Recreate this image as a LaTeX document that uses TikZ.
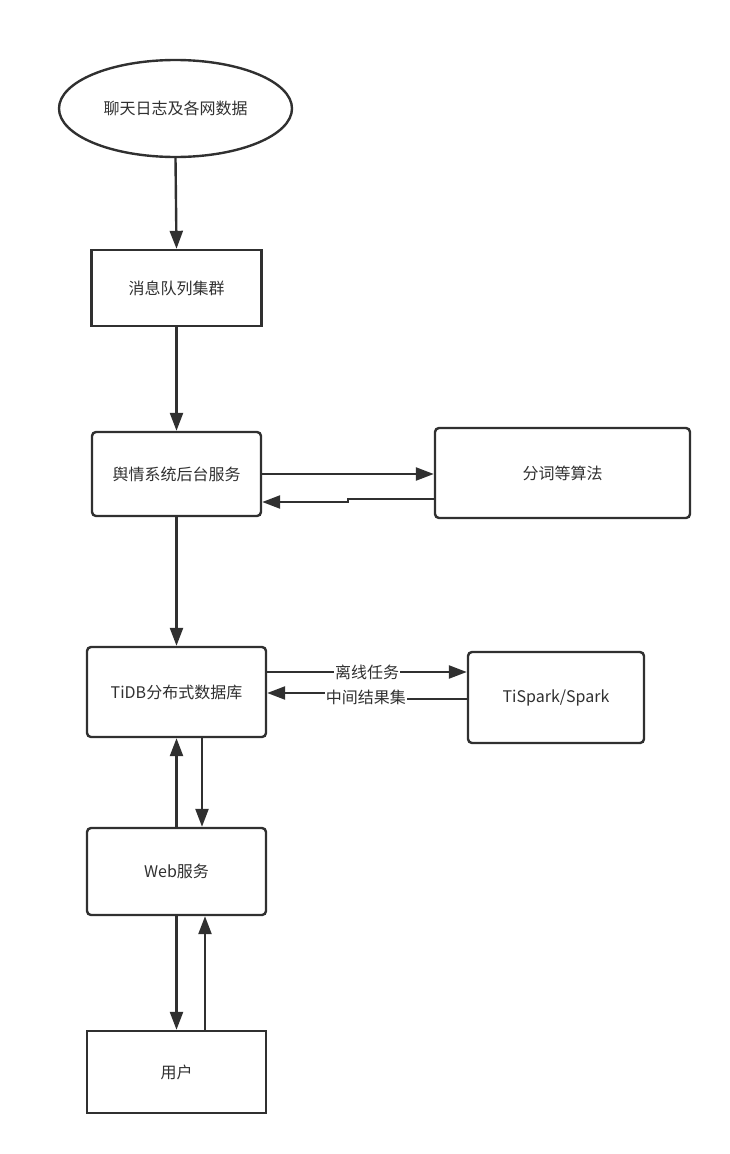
\documentclass[tikz,border=0pt]{standalone}
\usepackage{fontspec}
\setmainfont{Noto Sans CJK SC}
\usetikzlibrary{shapes.geometric,arrows.meta}
\definecolor{ink}{HTML}{303030}
\begin{document}
\begin{tikzpicture}[x=1pt,y=-1pt,line width=2.4pt,draw=ink,text=ink,
  font=\fontsize{16pt}{19pt}\selectfont,
  box/.style={draw=ink,rectangle,inner sep=0pt,minimum width=#1},
  rbox/.style={box=#1,rounded corners=4pt},
  arr/.style={draw=ink,-{Triangle[length=18pt,width=13pt]}},
  lbl/.style={fill=white,inner sep=1pt}]
\useasboundingbox (0,0) rectangle (729,1154);
\node[draw=ink,ellipse,inner sep=0pt,minimum width=233pt,minimum height=97pt] (src) at (175.5,108.5) {聊天日志及各网数据};
\node[box=170pt,minimum height=76pt] (mq) at (176.5,288) {消息队列集群};
\node[rbox=169pt,minimum height=84pt] (svc) at (176.5,474) {舆情系统后台服务};
\node[rbox=255pt,minimum height=90pt] (seg) at (562.5,473) {分词等算法};
\node[rbox=179pt,minimum height=90pt] (tidb) at (176.5,692) {TiDB分布式数据库};
\node[rbox=176pt,minimum height=91pt] (spark) at (556,697.5) {TiSpark/Spark};
\node[rbox=179pt,minimum height=87pt] (web) at (176.5,871.5) {Web服务};
\node[box=179pt,minimum height=82pt] (user) at (176.5,1072) {用户};
\draw[arr] (src.south) -- (mq.north);
\draw[arr] (mq.south) -- (svc.north);
\draw[arr] (svc.east) -- (svc.east -| seg.west);
\draw[arr] ([yshift=-26pt]seg.west) -- ++(-86,0) -- ++(0,3) -- ([yshift=-28pt]svc.east);
\draw[arr] (svc.south) -- (tidb.north);
\draw[arr] ([yshift=20pt]tidb.east) -- ([yshift=20pt]tidb.east -| spark.west) node[lbl,midway]{离线任务};
\draw[arr] ([yshift=-1.5pt]spark.west) -- ++(-101,0) node[lbl,yshift=2pt]{中间结果集} -- ++(0,-6) -- ([yshift=-1pt]tidb.east);
\draw[arr] (web.north) -- (tidb.south);
\draw[arr] ([xshift=25.5pt]tidb.south) -- ([xshift=25.5pt]tidb.south |- web.north);
\draw[arr] (web.south) -- (user.north);
\draw[arr] ([xshift=28.5pt]user.north) -- ([xshift=28.5pt]user.north |- web.south);
\end{tikzpicture}
\end{document}
